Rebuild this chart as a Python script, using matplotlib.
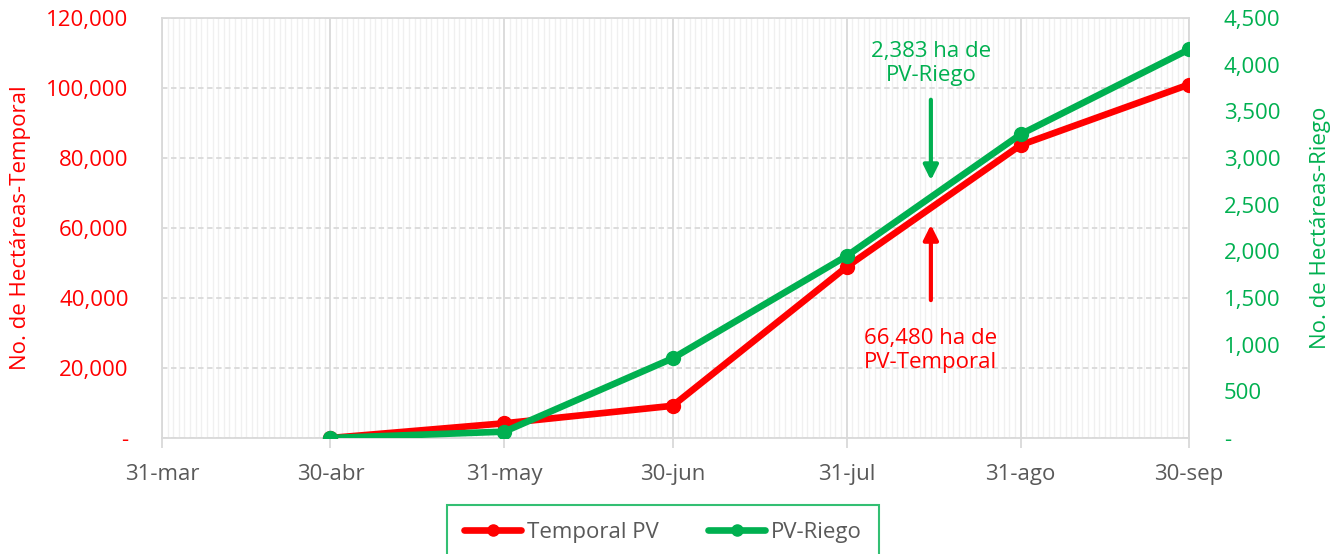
import pandas as pd
import numpy as np
import matplotlib
matplotlib.use('Agg')
import matplotlib.pyplot as plt
import matplotlib.dates as mdates
from matplotlib.ticker import FixedLocator, FuncFormatter

plt.rcParams['font.family'] = ['Open Sans', 'DejaVu Sans']

# datos
fechas = pd.to_datetime(['2024-04-30', '2024-05-31', '2024-06-30',
                         '2024-07-31', '2024-08-31', '2024-09-30'])
temporal = [0, 4200, 9200, 48900, 83700, 101000]
riego = [0, 68, 854, 1950, 3254, 4164]

etiquetas_x = ['31-mar', '30-abr', '31-may', '30-jun', '31-jul', '31-ago', '30-sep']
fechas_x = pd.to_datetime(['2024-03-31', '2024-04-30', '2024-05-31', '2024-06-30',
                           '2024-07-31', '2024-08-31', '2024-09-30'])
ticks_temporal = [0, 20000, 40000, 60000, 80000, 100000, 120000]
ticks_riego = [0, 500, 1000, 1500, 2000, 2500, 3000, 3500, 4000, 4500]

rojo = '#FF0000'
verde = '#00B050'
gris = '#595959'
fs = 16

fig = plt.figure(figsize=(13.39, 5.54), dpi=100)
ax = fig.add_axes([0.1210, 0.2094, 0.7670, 0.7581])
ax2 = ax.twinx()

ax.plot(fechas, temporal, color=rojo, lw=4.8, marker='o', ms=10,
        label='Temporal PV', zorder=3, solid_capstyle='round')
ax2.plot(fechas, riego, color=verde, lw=4.8, marker='o', ms=10,
         label='PV-Riego', zorder=3, solid_capstyle='round')

ax.set_xlim(fechas_x[0], fechas_x[-1])
ax.set_ylim(0, 120000)
ax2.set_ylim(0, 4500)

# grid
ax.xaxis.set_major_locator(FixedLocator(mdates.date2num(fechas_x)))
ax.xaxis.set_minor_locator(mdates.DayLocator())
ax.set_xticklabels(etiquetas_x)
ax.grid(axis='x', which='minor', color='#f0f0f0', lw=1)
ax.grid(axis='x', which='major', color='#d9d9d9', lw=1.3)
ax.set_yticks(ticks_temporal)
ax.grid(axis='y', which='major', color='#d9d9d9', lw=1.3, ls=(0, (3, 2)))
ax.set_axisbelow(True)

fmt = FuncFormatter(lambda v, p: '-' if v == 0 else f'{v:,.0f}')
ax.yaxis.set_major_formatter(fmt)
ax2.set_yticks(ticks_riego)
ax2.yaxis.set_major_formatter(fmt)

for s in ax.spines.values():
    s.set_color('#d9d9d9')
    s.set_linewidth(1.3)
for s in ax2.spines.values():
    s.set_visible(False)

ax.tick_params(axis='x', which='major', length=7, color='#d9d9d9', width=1.3,
               labelsize=fs, labelcolor=gris, pad=12)
ax.tick_params(axis='x', which='minor', length=0)
ax.tick_params(axis='y', length=0, labelsize=fs, labelcolor=rojo, pad=24)
ax2.tick_params(axis='y', length=0, labelsize=fs, labelcolor=verde, pad=25)

ax.set_ylabel('No. de Hectáreas-Temporal', color=rojo, fontsize=fs, labelpad=11)
ax2.set_ylabel('No. de Hectáreas-Riego', color=verde, fontsize=fs, labelpad=21)

# anotaciones
x_nota = pd.Timestamp('2024-08-15')
ax2.annotate('', xy=(x_nota, 2732), xytext=(x_nota, 3654),
             arrowprops=dict(arrowstyle='-|>', color=verde, lw=3, mutation_scale=22))
ax2.text(x_nota, 4010, '2,383 ha de\nPV-Riego', color=verde, fontsize=fs,
         ha='center', va='center', linespacing=1.2)
ax.annotate('', xy=(x_nota, 61700), xytext=(x_nota, 38600),
            arrowprops=dict(arrowstyle='-|>', color=rojo, lw=3, mutation_scale=22))
ax.text(x_nota, 25100, '66,480 ha de\nPV-Temporal', color=rojo, fontsize=fs,
        ha='center', va='center', linespacing=1.2)

h1, l1 = ax.get_legend_handles_labels()
h2, l2 = ax2.get_legend_handles_labels()
leg = fig.legend(h1 + h2, l1 + l2, loc='upper center', bbox_to_anchor=(0.495, 0.0884),
                 ncol=2, fontsize=fs, frameon=True, fancybox=False, borderaxespad=0,
                 handlelength=2.6, handletextpad=0.25, columnspacing=2.2,
                 borderpad=0.75, markerscale=0.8)
leg.get_frame().set_edgecolor(verde)
leg.get_frame().set_linewidth(1.5)
for t in leg.get_texts():
    t.set_color(gris)

fig.savefig('out.png', dpi=100)
